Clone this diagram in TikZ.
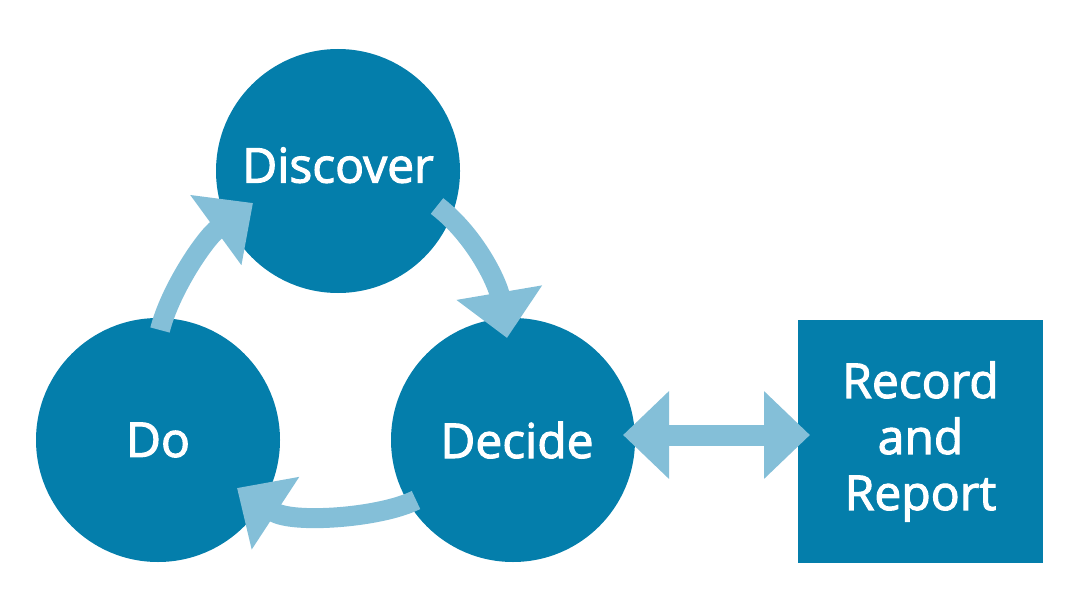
\documentclass[tikz,border=0pt]{standalone}
\usepackage{fontspec}
\setmainfont{Open Sans}
\newfontfamily\stagefont{Open Sans}[FakeBold=2.2]
\usetikzlibrary{arrows.meta, positioning}
\definecolor{cycleblue}{RGB}{4,126,171}
\definecolor{arrowblue}{RGB}{132,191,216}

\begin{document}
\begin{tikzpicture}[x=1pt, y=-1pt,
    stage/.style={circle, fill=cycleblue, minimum size=244pt, inner sep=0pt,
        text=white, font=\stagefont\fontsize{48}{56}\selectfont},
    record/.style={rectangle, fill=cycleblue, minimum width=245pt, minimum height=243pt,
        inner sep=0pt, text=white, align=center, font=\stagefont\fontsize{48}{56}\selectfont},
    flow/.style={draw=arrowblue, line width=20pt,
        -{Triangle[length=46pt, width=84pt, color=arrowblue]}},
    link/.style={draw=arrowblue, line width=21pt,
        {Triangle[length=46pt, width=85pt, color=arrowblue]}-{Triangle[length=46pt, width=85pt, color=arrowblue]}}]
    \useasboundingbox (0,0) rectangle (1089,615);

    % stages
    \node[stage, text depth=12pt] (discover) at (338,171) {Discover};
    \node[stage] (do) at (158,440) {Do};
    \node[stage] (decide) at (513,440) {\hspace*{8pt}Decide};
    \node[record] (report) at (920.5,441.5) {Record\\and\\Report};

    % arrow ends
    \coordinate (dostart) at (160,330);
    \coordinate (discoverend) at (253,203);
    \coordinate (discoverstart) at (437,206);
    \coordinate (decideend) at (507,338);
    \coordinate (decidestart) at (416,500);
    \coordinate (doend) at (237,488);
    \coordinate (linkstart) at (623,435);
    \coordinate (linkend) at (810,435);

    % cycle
    \draw[flow] (dostart) .. controls (170,290) and (205,238) .. (discoverend);
    \draw[flow] (discoverstart) .. controls (477,237) and (498,285) .. (decideend);
    \draw[flow] (decidestart) .. controls (380,518) and (292,524) .. (doend);

    \draw[link] (linkstart) -- (linkend);
\end{tikzpicture}
\end{document}
